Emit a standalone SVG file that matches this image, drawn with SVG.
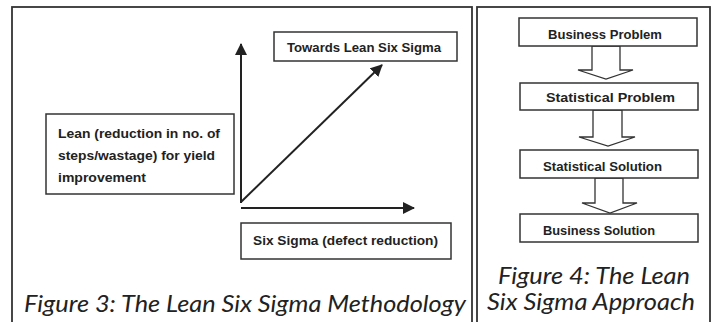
<svg xmlns="http://www.w3.org/2000/svg" width="712" height="322" viewBox="0 0 712 322">
<style>
.panel{fill:none;stroke:#333;stroke-width:1.8}
.box{fill:#fff;stroke:#333;stroke-width:1.5}
.lbl{font-family:"Liberation Sans",Arial,sans-serif;font-weight:bold;font-size:13px;fill:#222}
.cap{font-family:"Lato","DejaVu Sans",sans-serif;font-style:italic;font-size:23px;fill:#222}
.axis{stroke:#222;stroke-width:2;fill:none}
.blk{fill:#fff;stroke:#333;stroke-width:1.3;stroke-linejoin:miter}
</style>
<defs>
<marker id="ah" markerUnits="userSpaceOnUse" markerWidth="12" markerHeight="12" viewBox="0 0 12 12" refX="11" refY="6" orient="auto">
<path d="M0,0 L12,6 L0,12 z" fill="#222"/>
</marker>
</defs>
<rect x="0" y="0" width="712" height="322" fill="#fff"/>
<rect class="panel" x="12" y="7" width="460" height="330"/>
<rect class="panel" x="477" y="7" width="233" height="330"/>

<g id="connectors">
<line class="axis" x1="241" y1="203" x2="241" y2="44" marker-end="url(#ah)"/>
<line class="axis" x1="241" y1="208" x2="414" y2="208" marker-end="url(#ah)"/>
<line class="axis" x1="241" y1="202" x2="382" y2="65" marker-end="url(#ah)"/>
<polygon class="blk" points="592,46 620,46 620,70 633,70 606,79 578,70 592,70"/>
<polygon class="blk" points="593,110 622,110 622,137 635,137 608,146 579,137 593,137"/>
<polygon class="blk" points="595,178 623,178 623,203 637,203 610,213 582,203 595,203"/>
</g>

<g id="lean">
<rect class="box" x="46" y="114" width="188" height="80"/>
<text class="lbl" x="58" y="138" textLength="162" lengthAdjust="spacingAndGlyphs" font-size="14">Lean (reduction in no. of</text>
<text class="lbl" x="58" y="160" textLength="157" lengthAdjust="spacingAndGlyphs" font-size="14">steps/wastage) for yield</text>
<text class="lbl" x="58" y="182" textLength="88" lengthAdjust="spacingAndGlyphs" font-size="14">improvement</text>
</g>
<g id="towards">
<rect class="box" x="274" y="32" width="183" height="29"/>
<text class="lbl" x="287" y="52" textLength="154" lengthAdjust="spacingAndGlyphs" font-size="14">Towards Lean Six Sigma</text>
</g>
<g id="sixsigma">
<rect class="box" x="241" y="223" width="210" height="36"/>
<text class="lbl" x="253" y="245" textLength="185" lengthAdjust="spacingAndGlyphs" font-size="14">Six Sigma (defect reduction)</text>
</g>
<g id="caption3">
<text class="cap" x="24" y="312" textLength="442" lengthAdjust="spacingAndGlyphs">Figure 3: The Lean Six Sigma Methodology</text>
</g>

<g id="bp">
<rect class="box" x="519" y="18" width="178" height="28"/>
<text class="lbl" x="548" y="39" textLength="114" lengthAdjust="spacingAndGlyphs">Business Problem</text>
</g>
<g id="sp">
<rect class="box" x="520" y="83" width="178" height="27"/>
<text class="lbl" x="546" y="102" textLength="129" lengthAdjust="spacingAndGlyphs">Statistical Problem</text>
</g>
<g id="ss">
<rect class="box" x="520" y="150" width="178" height="28"/>
<text class="lbl" x="543" y="171" textLength="119" lengthAdjust="spacingAndGlyphs">Statistical Solution</text>
</g>
<g id="bs">
<rect class="box" x="520" y="214" width="178" height="28"/>
<text class="lbl" x="543" y="235" textLength="112" lengthAdjust="spacingAndGlyphs">Business Solution</text>
</g>
<g id="caption4">
<text class="cap" x="498" y="284" font-size="20" textLength="192" lengthAdjust="spacingAndGlyphs">Figure 4: The Lean</text>
<text class="cap" x="487" y="310" font-size="20" textLength="208" lengthAdjust="spacingAndGlyphs">Six Sigma Approach</text>
</g>
</svg>
